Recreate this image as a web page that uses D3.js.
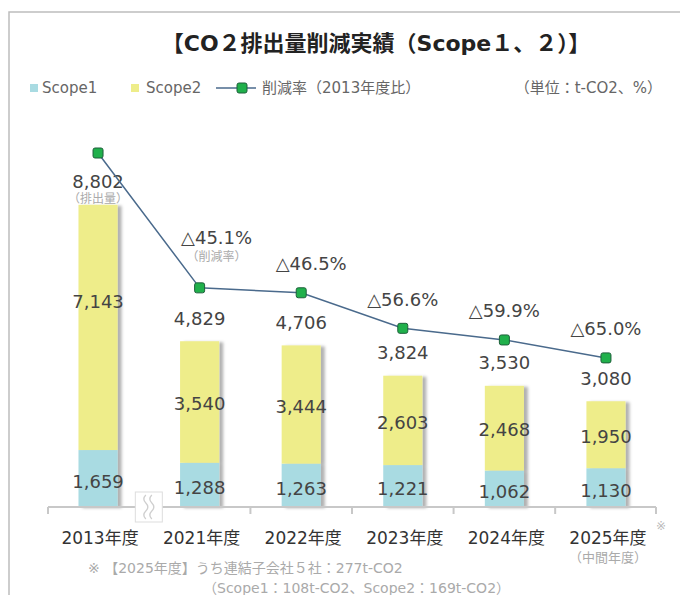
<!DOCTYPE html>
<html>
<head>
<meta charset="utf-8">
<script src="https://cdn.jsdelivr.net/npm/d3@7"></script>
<style>
	body { margin: 0; background: #fff; }
	text { font-family: 'DejaVu Sans', 'Noto Sans CJK JP', sans-serif; }
</style>
</head>
<body>
<div id="chart"></div>
<script>
const years = ['2013年度', '2021年度', '2022年度', '2023年度', '2024年度', '2025年度'];
const scope1 = [1659, 1288, 1263, 1221, 1062, 1130];
const scope2 = [7143, 3540, 3444, 2603, 2468, 1950];
const totals = [8802, 4829, 4706, 3824, 3530, 3080];
const rates = [0, 45.1, 46.5, 56.6, 59.9, 65.0];

const W = 680;
const H = 595;

const svg = d3.select('#chart').append('svg').attr('width', W).attr('height', H);

const defs = svg.append('defs');
defs
	.append('filter')
	.attr('id', 'shadow')
	.attr('x', '-20%')
	.attr('width', '160%')
	.append('feDropShadow')
	.attr('dx', 4)
	.attr('dy', 1)
	.attr('stdDeviation', 1.6)
	.attr('flood-color', '#000')
	.attr('flood-opacity', 0.3);

// frame
svg
	.append('path')
	.attr('d', `M9,${H + 5}V12H${W + 5}`)
	.attr('fill', 'none')
	.attr('stroke', '#bdbdbd')
	.attr('stroke-width', 1.5);

svg
	.append('text')
	.attr('x', 376)
	.attr('y', 43)
	.attr('dy', '0.35em')
	.attr('text-anchor', 'middle')
	.attr('font-size', 22)
	.attr('font-weight', 'bold')
	.attr('fill', '#222')
	.text('【CO２排出量削減実績（Scope１、２）】');

// scales
const x = d3.scaleBand().domain(years).range([48, 656]).paddingInner(0.615).paddingOuter(0.3);
const y = d3.scaleLinear().domain([0, 9000]).range([507, 198]);
const yRate = d3.scaleLinear().domain([0, 45, 70]).range([153, 287.5, 375.5]);

const cx = (i) => x(years[i]) + x.bandwidth() / 2;
const blue = '#a9dbe2';
const yellow = '#eeed8a';

// legend
const legend = svg.append('g').attr('font-size', 15).attr('fill', '#666');
legend.append('rect').attr('x', 30).attr('y', 84).attr('width', 8).attr('height', 8).attr('fill', blue);
legend.append('text').attr('x', 42).attr('y', 88).attr('dy', '0.35em').text('Scope1');
legend.append('rect').attr('x', 131).attr('y', 84).attr('width', 8).attr('height', 8).attr('fill', yellow);
legend.append('text').attr('x', 146).attr('y', 88).attr('dy', '0.35em').text('Scope2');
legend
	.append('line')
	.attr('x1', 216)
	.attr('x2', 256)
	.attr('y1', 88)
	.attr('y2', 88)
	.attr('stroke', '#4a6a8c')
	.attr('stroke-width', 1.5);
legend
	.append('rect')
	.attr('x', 237)
	.attr('y', 83)
	.attr('width', 10)
	.attr('height', 10)
	.attr('rx', 2)
	.attr('fill', '#20b04b')
	.attr('stroke', '#1d5f3a');
legend.append('text').attr('x', 262).attr('y', 88).attr('dy', '0.35em').text('削減率（2013年度比）');
legend
	.append('text')
	.attr('x', 662)
	.attr('y', 88)
	.attr('dy', '0.35em')
	.attr('text-anchor', 'end')
	.text('（単位：t-CO2、%）');

// bars
const bars = svg
	.append('g')
	.selectAll('g')
	.data(years)
	.enter()
	.append('g')
	.attr('filter', 'url(#shadow)');

bars
	.append('rect')
	.attr('x', (d) => x(d))
	.attr('width', x.bandwidth())
	.attr('y', (d, i) => y(scope1[i]))
	.attr('height', (d, i) => y(0) - y(scope1[i]))
	.attr('fill', blue);

bars
	.append('rect')
	.attr('x', (d) => x(d))
	.attr('width', x.bandwidth())
	.attr('y', (d, i) => y(scope1[i] + scope2[i]))
	.attr('height', (d, i) => y(scope1[i]) - y(scope1[i] + scope2[i]))
	.attr('fill', yellow);

// axis
const axis = svg.append('g').attr('stroke', '#c8c8c8').attr('stroke-width', 2).attr('fill', 'none');
axis.append('line').attr('x1', x.range()[0]).attr('x2', x.range()[1]).attr('y1', y(0)).attr('y2', y(0));
const step = x.step();
const bounds = [x.range()[0]].concat(years.slice(0, -1).map((d) => x(d) + (x.bandwidth() + step) / 2), [x.range()[1]]);
axis
	.selectAll('.tick')
	.data(bounds)
	.enter()
	.append('line')
	.attr('x1', (d) => d)
	.attr('x2', (d) => d)
	.attr('y1', y(0))
	.attr('y2', y(0) + 7);

// break mark between 2013 and 2021
const bx = bounds[1];
const brk = svg.append('g').attr('transform', `translate(${bx},${y(0)})`);
brk.append('rect').attr('x', -13.5).attr('y', -15).attr('width', 27).attr('height', 30).attr('fill', '#fff').attr('stroke', '#ddd');
[-3, 3].forEach((o) => {
	brk
		.append('path')
		.attr('d', `M${o},-12 q-4,4 0,8 q4,4 0,8 q-4,4 0,8`)
		.attr('fill', 'none')
		.attr('stroke', '#cfcfcf')
		.attr('stroke-width', 1.3);
});

// value labels inside bars
const labels = svg.append('g').attr('font-size', 18).attr('fill', '#444').attr('text-anchor', 'middle');
labels
	.selectAll('.s1')
	.data(years)
	.enter()
	.append('text')
	.attr('x', (d, i) => cx(i))
	.attr('y', (d, i) => (y(0) + y(scope1[i])) / 2 + 3)
	.attr('dy', '0.35em')
	.text((d, i) => d3.format(',')(scope1[i]));

labels
	.selectAll('.s2')
	.data(years)
	.enter()
	.append('text')
	.attr('x', (d, i) => cx(i))
	.attr('y', (d, i) => (y(scope1[i]) + y(scope1[i] + scope2[i])) / 2 + 2 - (i === 0 ? 28 : 0))
	.attr('dy', '0.35em')
	.text((d, i) => d3.format(',')(scope2[i]));

labels
	.selectAll('.tot')
	.data(years)
	.enter()
	.append('text')
	.attr('x', (d, i) => cx(i))
	.attr('y', (d, i) => y(totals[i]) - 23)
	.attr('dy', '0.35em')
	.text((d, i) => d3.format(',')(totals[i]));

labels
	.append('text')
	.attr('x', cx(0))
	.attr('y', y(totals[0]) - 6)
	.attr('dy', '0.35em')
	.attr('font-size', 12)
	.attr('fill', '#aaa')
	.text('（排出量）');

// reduction line
const line = d3
	.line()
	.x((d, i) => cx(i))
	.y((d) => yRate(d));

svg.append('path').datum(rates).attr('d', line).attr('fill', 'none').attr('stroke', '#4a6a8c').attr('stroke-width', 1.5);

svg
	.append('g')
	.selectAll('rect')
	.data(rates)
	.enter()
	.append('rect')
	.attr('x', (d, i) => cx(i) - 5)
	.attr('y', (d) => yRate(d) - 5)
	.attr('width', 10)
	.attr('height', 10)
	.attr('rx', 2)
	.attr('fill', '#20b04b')
	.attr('stroke', '#1d5f3a');

const rateLabels = svg.append('g').attr('font-size', 18).attr('fill', '#444').attr('text-anchor', 'middle');
rates.forEach((r, i) => {
	if (i === 0) return;
	const dx = i === 1 ? 17 : i === 2 ? 10 : 0;
	rateLabels
		.append('text')
		.attr('x', cx(i) + dx)
		.attr('y', yRate(r) - (i === 1 ? 50 : 29))
		.attr('dy', '0.35em')
		.text(`△${r.toFixed(1)}%`);
});
rateLabels
	.append('text')
	.attr('x', cx(1) + 17)
	.attr('y', yRate(rates[1]) - 31)
	.attr('dy', '0.35em')
	.attr('font-size', 12)
	.attr('fill', '#aaa')
	.text('（削減率）');

// category labels
const cats = svg.append('g').attr('font-size', 17).attr('fill', '#333').attr('text-anchor', 'middle');
cats
	.selectAll('text')
	.data(years)
	.enter()
	.append('text')
	.attr('x', (d, i) => cx(i) + 2)
	.attr('y', 538)
	.attr('dy', '0.35em')
	.text((d) => d);

cats
	.append('text')
	.attr('x', cx(5) + 2)
	.attr('y', 557)
	.attr('dy', '0.35em')
	.attr('font-size', 13)
	.attr('fill', '#aaa')
	.text('（中間年度）');

cats
	.append('text')
	.attr('x', 661)
	.attr('y', 526)
	.attr('dy', '0.35em')
	.attr('font-size', 12)
	.attr('fill', '#bbb')
	.text('※');

// footnote
const note = svg.append('g').attr('font-size', 14).attr('fill', '#aaa');
note.append('text').attr('x', 88).attr('y', 568).attr('dy', '0.35em').text('※ 【2025年度】うち連結子会社５社：277t-CO2');
note.append('text').attr('x', 203).attr('y', 588).attr('dy', '0.35em').text('（Scope1：108t-CO2、Scope2：169t-CO2）');
</script>
</body>
</html>
